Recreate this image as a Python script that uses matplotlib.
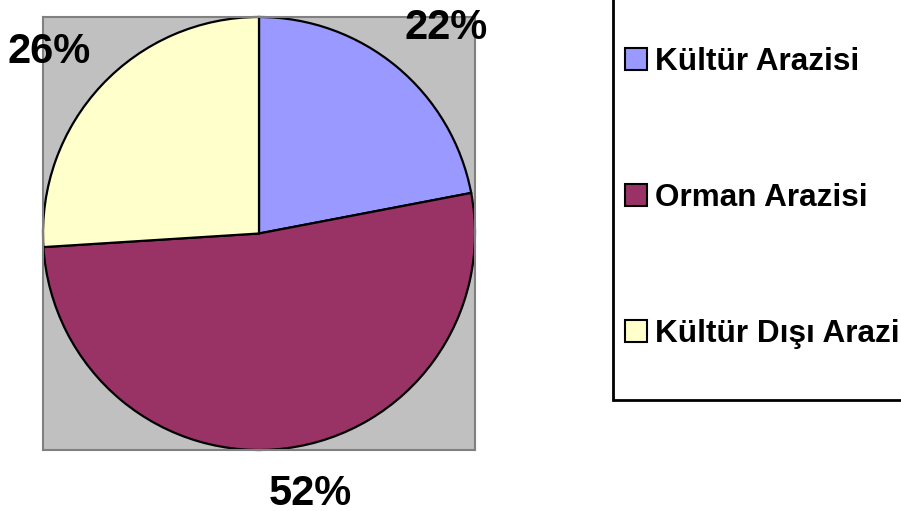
import matplotlib
matplotlib.use("Agg")
import matplotlib.pyplot as plt
from matplotlib.patches import Rectangle, Patch
import matplotlib.transforms as mtransforms
import numpy as np

plt.rcParams['font.family'] = ['Liberation Sans', 'DejaVu Sans']

categories = ["Kültür Arazisi", "Orman Arazisi", "Kültür Dışı Arazi"]
values = [22, 52, 26]
colors = ["#9999FF", "#993366", "#FFFFCC"]
# label placement: distance (in radii) and angle tweak (deg) from wedge middle
label_dist = [1.297, 1.213, 1.291]
label_turn = [-2.4, 4.2, 1.9]

W, H = 901, 511
fig = plt.figure(figsize=(W / 100, H / 100), dpi=100)
fig.patch.set_facecolor("white")

# plot area (gray square)
x0, y0, x1, y1 = 43, 17, 475, 450
ax = fig.add_axes([x0 / W, 1 - y1 / H, (x1 - x0) / W, (y1 - y0) / H])

wedges, _ = ax.pie(values, colors=colors, startangle=90, counterclock=False,
                   radius=1.0, wedgeprops=dict(edgecolor="black", linewidth=1.6))
ax.set_frame_on(True)
ax.set_facecolor("#C0C0C0")
for s in ax.spines.values():
    s.set_visible(True)
    s.set_color("#808080")
    s.set_linewidth(1.5)
ax.set_xticks([])
ax.set_yticks([])
ax.set_xlim(-1.0, 1.0)
ax.set_ylim(-1.0, 1.0)
ax.set_aspect("auto")

# small downward nudge (points) so ink is centred like the reference
nudge = mtransforms.offset_copy(ax.transData, fig=fig, x=0, y=-3, units="dots")

total = sum(values)
for w, v, d, t in zip(wedges, values, label_dist, label_turn):
    mid = np.deg2rad((w.theta1 + w.theta2) / 2 + t)
    ax.text(d * np.cos(mid), d * np.sin(mid), f"{round(100 * v / total)}%",
            ha="center", va="center", fontsize=30, fontweight="bold",
            clip_on=False, color="black", transform=nudge)

# legend frame, extending past the figure edge
fig.patches.append(Rectangle((613 / W, 1 - 400 / H), 0.6, 1.0,
                             transform=fig.transFigure, facecolor="white",
                             edgecolor="black", linewidth=2, zorder=0))

handles = [Patch(facecolor=c, edgecolor="black", linewidth=1.5) for c in colors]
leg = fig.legend(handles, categories, loc="center left",
                 bbox_to_anchor=(625 / W, 1 - 198 / H),
                 frameon=False, prop=dict(size=22.7, weight="bold"),
                 handlelength=0.7, handleheight=0.7, handletextpad=0.25,
                 labelspacing=3.35, borderpad=0, borderaxespad=0)

fig.savefig("out.png", dpi=100)
